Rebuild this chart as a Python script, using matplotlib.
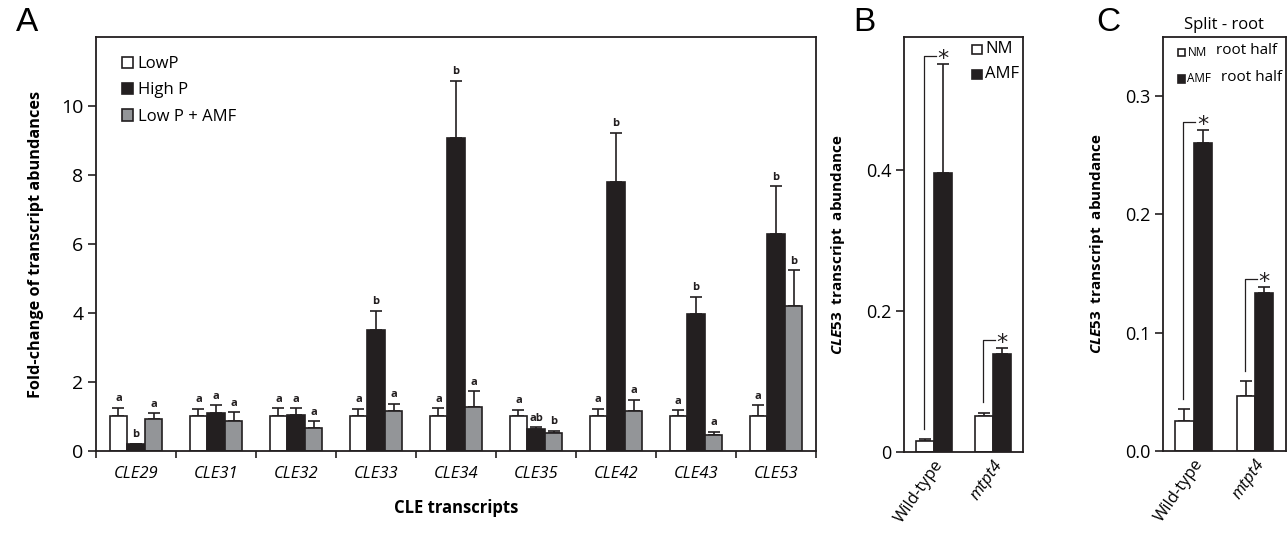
import numpy as np
import matplotlib.pyplot as plt
from matplotlib.patches import Patch, Rectangle
from matplotlib.transforms import ScaledTranslation

plt.rcParams['font.family'] = ['Open Sans', 'DejaVu Sans']
plt.rcParams['mathtext.fontset'] = 'custom'
plt.rcParams['mathtext.it'] = 'Open Sans:italic:bold'
plt.rcParams['mathtext.rm'] = 'Open Sans:bold'

# panel A: fold-change of CLE transcripts
genes = ['CLE29', 'CLE31', 'CLE32', 'CLE33', 'CLE34', 'CLE35', 'CLE42', 'CLE43', 'CLE53']
lowp = [1.0, 1.0, 1.0, 1.0, 1.0, 1.01, 1.0, 1.0, 1.0]
lowp_err = [0.25, 0.22, 0.24, 0.22, 0.24, 0.19, 0.23, 0.18, 0.33]
highp = [0.19, 1.09, 1.04, 3.51, 9.08, 0.64, 7.81, 3.98, 6.29]
highp_err = [0.02, 0.23, 0.20, 0.56, 1.65, 0.05, 1.41, 0.49, 1.38]
amf = [0.93, 0.88, 0.68, 1.16, 1.27, 0.51, 1.17, 0.45, 4.21]
amf_err = [0.17, 0.25, 0.18, 0.21, 0.46, 0.08, 0.32, 0.11, 1.03]
lowp_let = ['a'] * 9
highp_let = ['b', 'a', 'a', 'b', 'b', 'ab', 'b', 'b', 'b']
amf_let = ['a', 'a', 'a', 'a', 'a', 'b', 'a', 'a', 'b']

# panel B and C: CLE53 abundance
genotypes = ['Wild-type', 'mtpt4']
b_nm = [0.015, 0.0505]
b_nm_err = [0.003, 0.0055]
b_amf = [0.396, 0.1396]
b_amf_err = [0.154, 0.0085]
c_nm = [0.0254, 0.0465]
c_nm_err = [0.0101, 0.0125]
c_amf = [0.260, 0.1336]
c_amf_err = [0.0115, 0.0051]

dark = '#231f20'
gray = '#939598'

fig = plt.figure(figsize=(12.87, 5.44), dpi=100)
axA = fig.add_axes([0.0746, 0.171, 0.5594, 0.761])
axB = fig.add_axes([0.7024, 0.169, 0.0925, 0.763])
axC = fig.add_axes([0.9036, 0.171, 0.0954, 0.761])

ekw = dict(ecolor=dark, elinewidth=1.2, capsize=4, capthick=1.2)

# ---- A
x = np.arange(len(genes))
w = 0.22
series = [(lowp, lowp_err, 'white', lowp_let, 'LowP'),
          (highp, highp_err, dark, highp_let, 'High P'),
          (amf, amf_err, gray, amf_let, 'Low P + AMF')]
for k, (vals, errs, col, lets, lab) in enumerate(series):
    xs = x + (k - 1) * w
    axA.bar(xs, vals, w, color=col, edgecolor=dark, linewidth=1.2, zorder=2)
    axA.errorbar(xs, vals, yerr=[np.zeros(len(vals)), errs], fmt='none', zorder=1, **ekw)
    for xi, v, e, l in zip(xs, vals, errs, lets):
        axA.annotate(l, (xi, v + e), xytext=(0, 2.5), textcoords='offset points',
                     ha='center', va='bottom', fontsize=8, fontweight='bold', color=dark)

axA.set_xlim(-0.5, len(genes) - 0.5)
axA.set_ylim(0, 12)
axA.set_yticks([0, 2, 4, 6, 8, 10])
axA.set_xticks(x)
axA.set_xticklabels(genes, fontstyle='italic', fontsize=12)
axA.set_xticks(np.arange(-0.5, len(genes)), minor=True)
axA.tick_params(axis='x', which='major', length=0, pad=11)
axA.tick_params(axis='x', which='minor', length=5, width=1.2, direction='out', color=dark)
axA.tick_params(axis='y', length=6, width=1.2, labelsize=14, color=dark, pad=3)
axA.set_ylabel('Fold-change of transcript abundances', fontsize=11.7, fontweight='bold', labelpad=12)
axA.set_xlabel('CLE transcripts', fontsize=12, fontweight='bold', labelpad=12)
handles = [Patch(facecolor=c, edgecolor=dark, linewidth=1.2) for c in ['white', dark, gray]]
axA.legend(handles, [s[4] for s in series], loc='upper left', bbox_to_anchor=(0.015, 0.99),
           frameon=False, fontsize=12, handlelength=0.65, handleheight=0.65,
           handletextpad=0.3, labelspacing=0.62)


def two_bar(ax, nm, nm_err, am, am_err, ymax):
    xg = np.arange(len(genotypes))
    bw = 0.3
    ax.bar(xg - bw / 2, nm, bw, color='white', edgecolor=dark, linewidth=1.2, zorder=2)
    ax.bar(xg + bw / 2, am, bw, color=dark, edgecolor=dark, linewidth=1.2, zorder=2)
    ax.errorbar(xg - bw / 2, nm, yerr=[np.zeros(2), nm_err], fmt='none', zorder=1, **ekw)
    ax.errorbar(xg + bw / 2, am, yerr=[np.zeros(2), am_err], fmt='none', zorder=1, **ekw)
    # significance brackets
    for xi, a, ae, b, be in zip(xg, nm, nm_err, am, am_err):
        y0 = a + ae + 0.025 * ymax
        y1 = b + be + 0.018 * ymax
        x0 = xi - bw / 2 - 0.02
        ax.plot([x0, x0, xi + 0.03], [y0, y1, y1], color=dark, lw=0.9)
        ax.text(xi + bw / 2, y1 - 0.006 * ymax, '*', ha='center', va='center', fontsize=16,
                color=dark, family='DejaVu Sans')
    ax.set_xlim(-0.5, 1.5)
    ax.set_ylim(0, ymax)
    ax.set_xticks(xg)
    ax.set_xticklabels(genotypes, rotation=55, ha='right', rotation_mode='anchor', fontsize=12)
    ax.get_xticklabels()[1].set_fontstyle('italic')
    off = ScaledTranslation(0.13, 0, fig.dpi_scale_trans)
    for t in ax.get_xticklabels():
        t.set_transform(t.get_transform() + off)
    ax.tick_params(axis='x', length=0, pad=4)
    ax.tick_params(axis='y', length=6, width=1.2, labelsize=13, color=dark, pad=3)
    ax.set_ylabel(r'$\mathit{CLE53}$  transcript  abundance', fontsize=11, fontweight='bold', labelpad=14)


two_bar(axB, b_nm, b_nm_err, b_amf, b_amf_err, 0.588)
axB.set_yticks([0, 0.2, 0.4])
axB.set_yticklabels(['0', '0.2', '0.4'])
# legend B
for row, (c, lab) in enumerate([('white', 'NM'), (dark, 'AMF')]):
    yy = 0.97 - row * 0.06
    axB.add_patch(Rectangle((0.575, yy - 0.011), 0.08, 0.022, transform=axB.transAxes,
                            facecolor=c, edgecolor=dark, lw=1.2, clip_on=False))
    axB.text(0.68, yy, lab, transform=axB.transAxes, ha='left', va='center', fontsize=12)

two_bar(axC, c_nm, c_nm_err, c_amf, c_amf_err, 0.35)
axC.set_yticks([0, 0.1, 0.2, 0.3])
axC.set_yticklabels(['0.0', '0.1', '0.2', '0.3'])
axC.set_title('Split - root', fontsize=12, pad=6)
# legend C
for row, (c, lab, xr) in enumerate([('white', 'NM', 0.43), (dark, 'AMF', 0.47)]):
    yy = 0.963 - row * 0.064
    axC.add_patch(Rectangle((0.12, yy - 0.009), 0.06, 0.018, transform=axC.transAxes,
                            facecolor=c, edgecolor=dark, lw=1.2, clip_on=False))
    axC.text(0.2, yy, lab, transform=axC.transAxes, ha='left', va='center', fontsize=8.5)
    axC.text(xr, yy + 0.004, 'root half', transform=axC.transAxes, ha='left', va='center', fontsize=11)

for ax in (axA, axB, axC):
    for s in ax.spines.values():
        s.set_linewidth(1.3)
        s.set_color(dark)

fig.text(0.021, 0.958, 'A', fontsize=24, ha='center', va='center', family='Liberation Sans')
fig.text(0.672, 0.958, 'B', fontsize=24, ha='center', va='center', family='Liberation Sans')
fig.text(0.861, 0.958, 'C', fontsize=24, ha='center', va='center', family='Liberation Sans')

fig.savefig('out.png', dpi=100)
